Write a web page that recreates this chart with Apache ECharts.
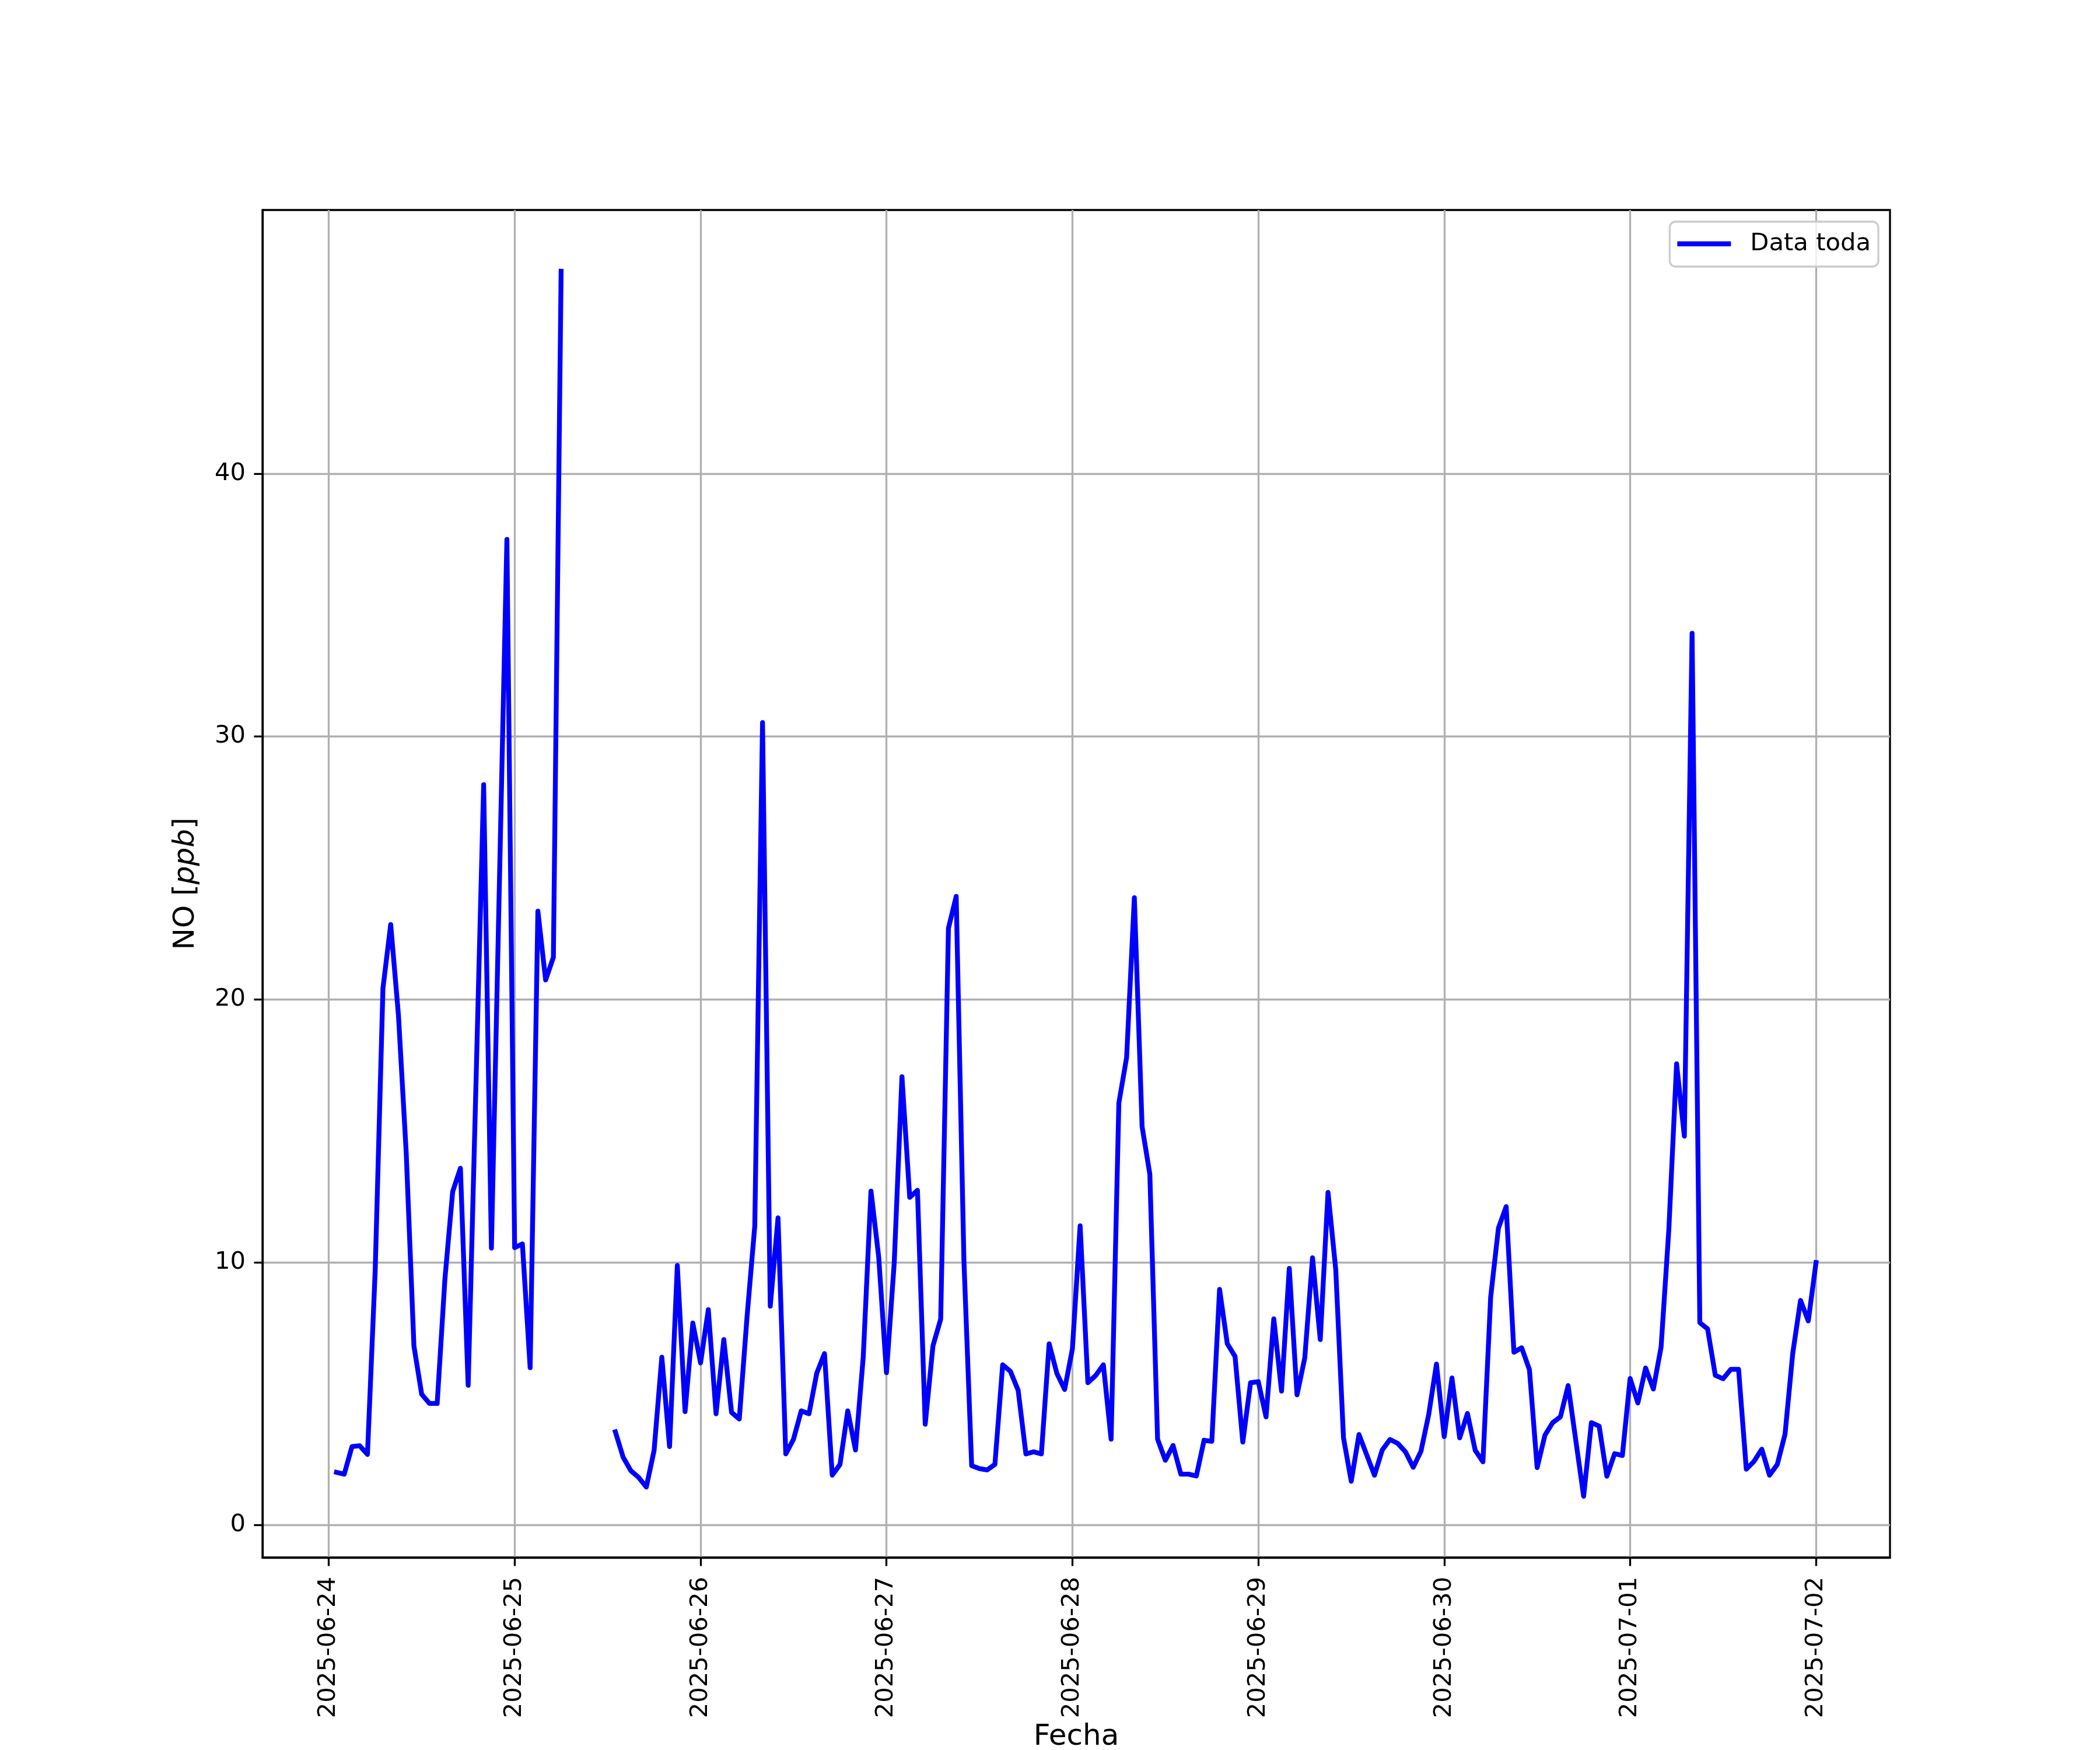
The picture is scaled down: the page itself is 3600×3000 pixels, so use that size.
<!DOCTYPE html>
<html>
<head>
<meta charset="utf-8">
<script src="https://cdn.jsdelivr.net/npm/echarts@6/dist/echarts.min.js"></script>
<style>
html,body{margin:0;padding:0;background:#ffffff;}
#chart{width:3600px;height:3000px;}
</style>
</head>
<body>
<div id="chart"></div>
<script>
// ---- data ----
const seriesName = 'Data toda';
const firstSample = [2025, 5, 24, 1]; // 2025-06-24 01:00, hourly samples
const noValues = [
  2.01, 1.94, 2.99, 3.02, 2.69, 9.70, 20.43, 22.85, 19.40, 14.18, 6.81, 4.98,
  4.63, 4.63, 9.37, 12.69, 13.58, 5.32, 16.7, 28.17, 10.54, 24.0, 37.5, 10.56,
  10.7, 5.99, 23.36, 20.74, 21.6, 47.7, null, null, null, null, null, null,
  3.55, 2.59, 2.07, 1.82, 1.45, 2.84, 6.39, 2.99, 9.88, 4.32, 7.69, 6.17,
  8.2, 4.24, 7.06, 4.29, 4.04, 7.92, 11.39, 30.53, 8.33, 11.69, 2.71, 3.27,
  4.35, 4.24, 5.78, 6.53, 1.90, 2.31, 4.35, 2.86, 6.39, 12.71, 10.2, 5.8,
  9.97, 17.06, 12.47, 12.74, 3.84, 6.82, 7.84, 22.71, 23.92, 10.05, 2.26, 2.15,
  2.10, 2.31, 6.10, 5.85, 5.13, 2.71, 2.79, 2.71, 6.90, 5.77, 5.16, 6.70,
  11.39, 5.42, 5.69, 6.10, 3.27, 16.06, 17.79, 23.87, 15.16, 13.35, 3.27, 2.47,
  3.03, 1.94, 1.94, 1.87, 3.23, 3.19, 8.97, 6.90, 6.42, 3.16, 5.42, 5.46,
  4.12, 7.85, 5.10, 9.77, 4.96, 6.36, 10.17, 7.06, 12.66, 9.72, 3.32, 1.67,
  3.45, 2.67, 1.90, 2.86, 3.26, 3.11, 2.79, 2.20, 2.81, 4.21, 6.13, 3.37,
  5.60, 3.32, 4.25, 2.85, 2.41, 8.68, 11.30, 12.12, 6.58, 6.75, 5.92, 2.19,
  3.42, 3.90, 4.12, 5.31, 3.2, 1.10, 3.90, 3.77, 1.86, 2.72, 2.65, 5.58,
  4.65, 5.98, 5.18, 6.78, 11.25, 17.55, 14.80, 33.93, 7.70, 7.47, 5.70, 5.57,
  5.93, 5.93, 2.13, 2.43, 2.89, 1.90, 2.31, 3.46, 6.55, 8.55, 7.77, 9.99
];
const xTickLabels = ['2025-06-24','2025-06-25','2025-06-26','2025-06-27','2025-06-28',
                     '2025-06-29','2025-06-30','2025-07-01','2025-07-02'];
const yTickValues = [0, 10, 20, 30, 40];
const xAxisTitle = 'Fecha';
const yAxisTitle = 'NO';
const yAxisUnit = 'ppb';

// ---- build ----
const HOUR = 3600000;
const firstTime = Date.UTC(firstSample[0], firstSample[1], firstSample[2], firstSample[3]);
const times = noValues.map((v, i) => firstTime + i * HOUR);
const seriesData = noValues.map((v, i) => [times[i], v]);

const xTickValues = xTickLabels.map(s => {
  const p = s.split('-').map(Number);
  return Date.UTC(p[0], p[1] - 1, p[2]);
});
const labelByValue = {};
xTickValues.forEach((t, i) => { labelByValue[t] = xTickLabels[i]; });

// matplotlib-like 5% autoscale margins
const tMin = times[0], tMax = times[times.length - 1];
const tPad = (tMax - tMin) * 0.05;
const vals = noValues.filter(v => v !== null);
const vMin = Math.min(...vals), vMax = Math.max(...vals);
const vPad = (vMax - vMin) * 0.05;

const FONT = 'DejaVu Sans';
const chart = echarts.init(document.getElementById('chart'), null, {renderer: 'canvas', width: 3600, height: 3000});

chart.setOption({
  animation: false,
  backgroundColor: '#ffffff',
  grid: {
    left: 450, right: 360, top: 360, bottom: 330,
    show: true, borderColor: '#000000', borderWidth: 3.3, backgroundColor: 'transparent',
    containLabel: false, outerBoundsMode: 'none'
  },
  legend: {
    show: true,
    right: 380, top: 380,
    data: [{name: seriesName, icon: 'rect'}],
    itemWidth: 92, itemHeight: 8.3,
    padding: [17, 13, 18, 13],
    backgroundColor: 'rgba(255,255,255,0.8)',
    borderColor: '#cccccc', borderWidth: 3.3, borderRadius: 10,
    selectedMode: false,
    textStyle: {fontFamily: FONT, fontSize: 41.7, color: '#000000', padding: [0, 0, 0, 28]}
  },
  xAxis: {
    type: 'value',
    min: tMin - tPad, max: tMax + tPad,
    axisLine: {show: true, onZero: false, lineStyle: {color: '#000000', width: 3.3}},
    axisTick: {show: true, inside: false, length: 14.6, lineStyle: {color: '#000000', width: 3.3}, customValues: xTickValues},
    axisLabel: {
      show: true, customValues: xTickValues, rotate: 90, margin: 33,
      fontFamily: FONT, fontSize: 41.7, color: '#000000',
      formatter: v => labelByValue[v] || ''
    },
    splitLine: {show: true, showMinLine: true, showMaxLine: true, lineStyle: {color: '#b0b0b0', width: 3.3}},
    name: xAxisTitle, nameLocation: 'middle', nameGap: 282,
    nameTextStyle: {fontFamily: FONT, fontSize: 50, color: '#000000'}
  },
  yAxis: {
    type: 'value',
    min: vMin - vPad, max: vMax + vPad,
    axisLine: {show: true, onZero: false, lineStyle: {color: '#000000', width: 3.3}},
    axisTick: {show: true, inside: false, length: 14.6, lineStyle: {color: '#000000', width: 3.3}, customValues: yTickValues},
    axisLabel: {show: true, customValues: yTickValues, margin: 29, fontFamily: FONT, fontSize: 41.7, color: '#000000'},
    splitLine: {show: true, showMinLine: true, showMaxLine: true, lineStyle: {color: '#b0b0b0', width: 3.3}},
    name: '{n|' + yAxisTitle + ' [}{i|' + yAxisUnit + '}{n|]}',
    nameLocation: 'middle', nameGap: 106, nameRotate: 90,
    nameTextStyle: {
      fontFamily: FONT, fontSize: 50, color: '#000000',
      rich: {
        n: {fontFamily: FONT, fontSize: 50, color: '#000000'},
        i: {fontFamily: FONT, fontSize: 50, fontStyle: 'italic', color: '#000000'}
      }
    }
  },
  series: [{
    type: 'line',
    name: seriesName,
    data: seriesData,
    showSymbol: false,
    symbol: 'none',
    connectNulls: false,
    lineStyle: {color: '#0000ff', width: 8.3, join: 'round', cap: 'square'},
    itemStyle: {color: '#0000ff'},
    emphasis: {disabled: true},
    z: 3
  }]
});
</script>
</body>
</html>
